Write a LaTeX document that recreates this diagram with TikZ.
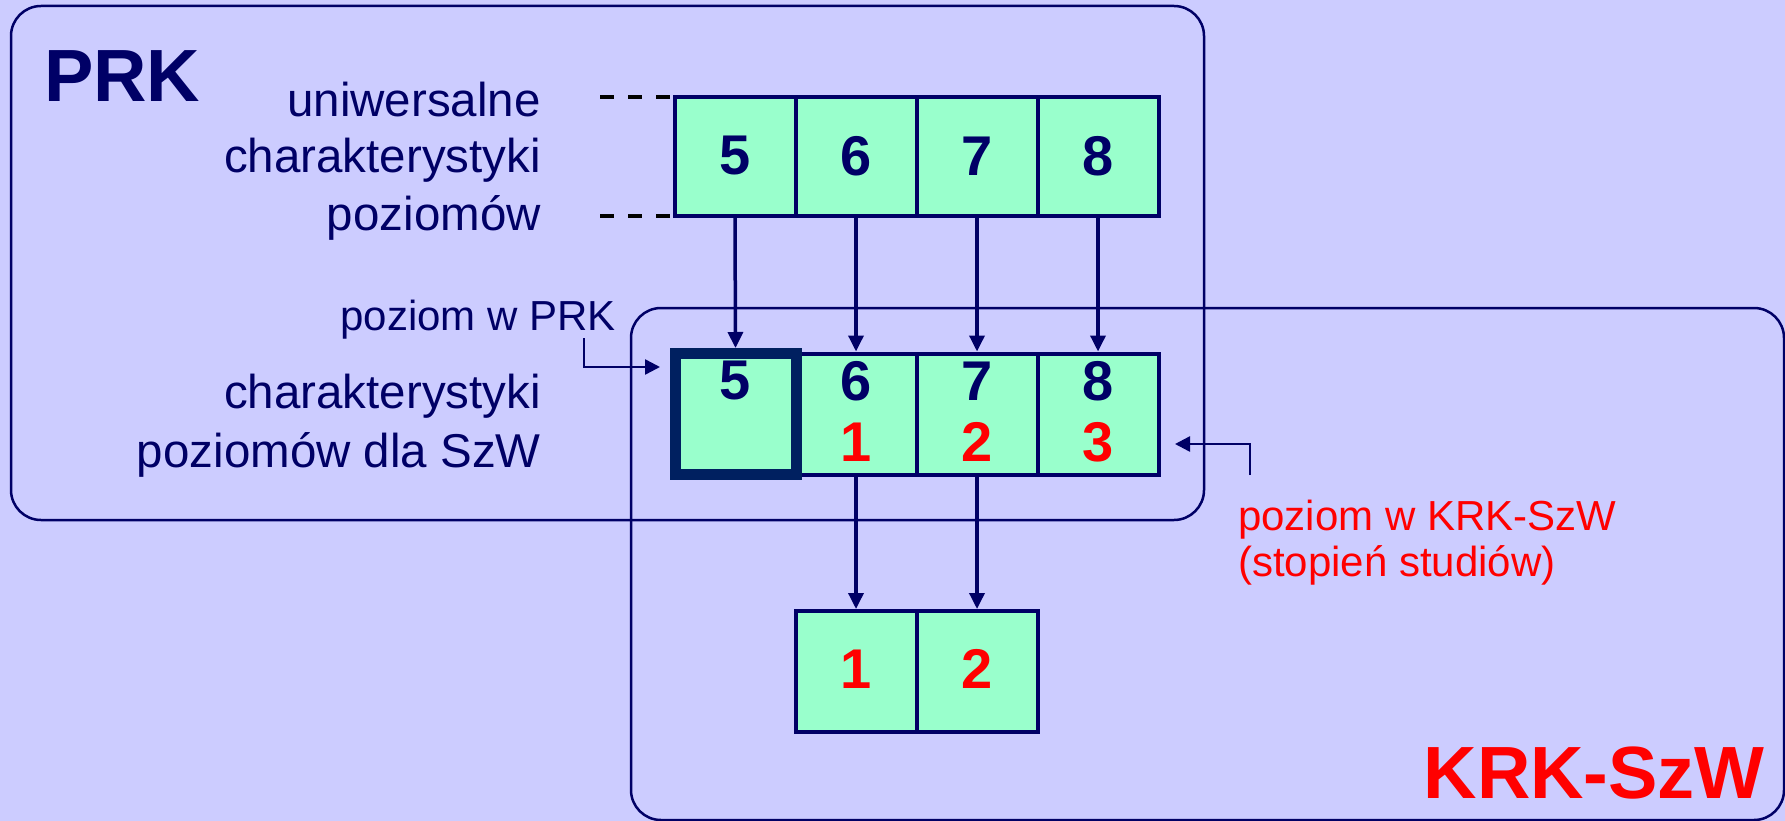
\documentclass[tikz,border=0pt]{standalone}
\usepackage{fontspec}
\setmainfont{Liberation Sans}
\usetikzlibrary{arrows.meta}
\definecolor{bg}{RGB}{204,204,255}
\definecolor{navy}{RGB}{0,0,102}
\definecolor{cellg}{RGB}{153,255,204}
\definecolor{thickb}{RGB}{0,32,96}
\definecolor{krkred}{RGB}{255,0,0}
\tikzset{
  roundbox/.style={draw=navy, line width=2.5pt, rounded corners=30pt},
  cell/.style={draw=navy, line width=4pt, fill=cellg, minimum width=121pt, minimum height=120pt, inner sep=0pt},
  thickcell/.style={draw=thickb, line width=11pt, minimum width=121pt, minimum height=120pt, inner sep=0pt},
  digit/.style={font=\bfseries\fontsize{56}{56}\selectfont, text=navy, inner sep=0pt},
  rdigit/.style={digit, text=krkred},
  arr/.style={draw=navy, line width=3.5pt, -{Triangle[length=16pt,width=15pt]}},
  thinarr/.style={draw=navy, line width=2.5pt, -{Triangle[length=15pt,width=15pt]}},
  dashline/.style={draw=black, line width=3.5pt, dash pattern=on 14pt off 14pt},
  lbl/.style={font=\fontsize{47.5}{57}\selectfont, text=navy, inner sep=0pt, anchor=base east},
  small/.style={font=\fontsize{42}{50}\selectfont, inner sep=0pt},
  big/.style={font=\bfseries\fontsize{74}{74}\selectfont, inner sep=0pt}
}
\begin{document}
\begin{tikzpicture}[x=1pt,y=-1pt]
\useasboundingbox (0,0) rectangle (1785,821);
\fill[bg] (0,0) rectangle (1785,821);

% group frames
\draw[roundbox] (11,6) rectangle (1204,520);
\draw[roundbox] (631,308) rectangle (1784,820);

% titles
\node[big, text=navy, anchor=base west] (prk) at (44,102) {PRK};
\node[big, text=krkred, anchor=base east] (krk) at (1765,798) {KRK-SzW};

% left labels
\node[lbl] (l1) at (541,117) {uniwersalne};
\node[lbl] (l2) at (541,173) {charakterystyki};
\node[lbl] (l3) at (541,230) {poziomów};
\node[lbl] (l4) at (541,408) {charakterystyki};
\node[lbl] (l5) at (541,467) {poziomów dla SzW};
\node[small, text=navy, anchor=base east] (ppk) at (616,330) {poziom w PRK};
\node[small, text=krkred, anchor=base west] (pk1) at (1238,530) {poziom w KRK-SzW};
\node[small, text=krkred, anchor=base west] (pk2) at (1238,576) {(stopień studiów)};

% top row
\node[cell, minimum height=119pt] (t5) at (735,156.5) {};
\node[cell, minimum height=119pt] (t6) at (856,156.5) {};
\node[cell, minimum height=119pt] (t7) at (977,156.5) {};
\node[cell, minimum height=119pt] (t8) at (1098,156.5) {};
\node[digit] (dt5) at (735,156) {5};
\node[digit] (dt6) at (856,156) {6};
\node[digit] (dt7) at (977,156) {7};
\node[digit] (dt8) at (1098,156) {8};

% dashed guide lines
\coordinate (g1) at (600,97);
\coordinate (g2) at (600,216);
\draw[dashline] (g1) -- (g1 -| t5.west);
\draw[dashline] (g2) -- (g2 -| t5.west);

% middle row
\node[cell, minimum height=121pt] (m5) at (735,414) {};
\node[cell, minimum height=121pt] (m6) at (856,414) {};
\node[cell, minimum height=121pt] (m7) at (977,414) {};
\node[cell, minimum height=121pt] (m8) at (1098,414) {};
\node[thickcell, minimum height=121pt] (m5t) at (735.5,414) {};
\node[digit] (dm5) at (735,381) {5};
\node[digit] (dm6) at (856,381) {6};
\node[digit] (dm7) at (977,381) {7};
\node[digit] (dm8) at (1098,381) {8};
\node[rdigit] (rm6) at (856,442) {1};
\node[rdigit] (rm7) at (977,442) {2};
\node[rdigit] (rm8) at (1098,442) {3};

% bottom row
\node[cell, minimum height=121pt] (b1) at (856,671.5) {};
\node[cell, minimum height=121pt] (b2) at (977,671.5) {};
\node[rdigit] (rb1) at (856,669) {1};
\node[rdigit] (rb2) at (977,669) {2};

% arrows
\draw[arr] (t5.south) -- (m5t.north);
\draw[arr] (t6.south) -- (m6.north);
\draw[arr] (t7.south) -- (m7.north);
\draw[arr] (t8.south) -- (m8.north);
\draw[arr] (m6.south) -- (b1.north);
\draw[arr] (m7.south) -- (b2.north);

% bent pointers
\coordinate (p1) at (584,338);
\coordinate (p1e) at (660,367);
\draw[thinarr] (p1) |- (p1e);
\coordinate (p2) at (1250,475);
\coordinate (p2e) at (1175,444);
\draw[thinarr] (p2) |- (p2e);
\end{tikzpicture}
\end{document}
